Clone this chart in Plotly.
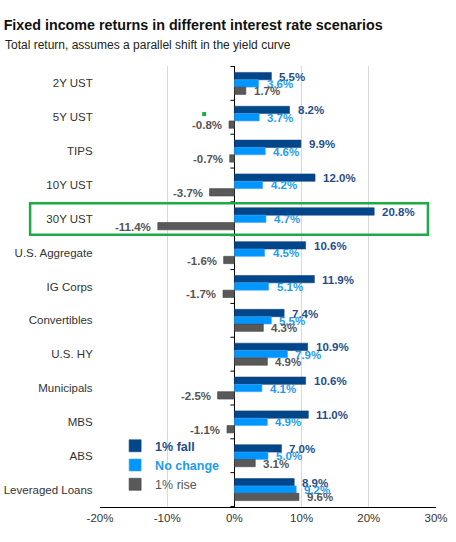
import plotly.graph_objects as go

categories = ["2Y UST", "5Y UST", "TIPS", "10Y UST", "30Y UST", "U.S. Aggregate",
              "IG Corps", "Convertibles", "U.S. HY", "Municipals", "MBS", "ABS",
              "Leveraged Loans"]
fall = [5.5, 8.2, 9.9, 12.0, 20.8, 10.6, 11.9, 7.4, 10.9, 10.6, 11.0, 7.0, 8.9]
no_change = [3.6, 3.7, 4.6, 4.2, 4.7, 4.5, 5.1, 5.5, 7.9, 4.1, 4.9, 5.0, 9.2]
rise = [1.7, -0.8, -0.7, -3.7, -11.4, -1.6, -1.7, 4.3, 4.9, -2.5, -1.1, 3.1, 9.6]
series_names = ["1% fall", "No change", "1% rise"]
x_ticks = [-20, -10, 0, 10, 20, 30]

bar_colors = ["#00468B", "#0096FF", "#595959"]
text_colors = ["#1F4E8C", "#1E9BF0", "#555555"]
line_colors = ["#1D3F73", "#3AA8F5", "#404040"]
legend_bold = [True, True, False]

W, H = 456, 542
M = dict(l=100, r=20, t=66, b=35)
BARGAP = 0.35
plot_h = H - M["t"] - M["b"]
row_px = plot_h / len(categories)
bar_px = row_px * (1 - BARGAP) / 3

fig = go.Figure()
annotations = []
for k, (name, vals, bc, tc, lc, b) in enumerate(zip(series_names, [fall, no_change, rise],
                                     bar_colors, text_colors, line_colors, legend_bold)):
    label = f"<span style='color:{tc}'>{name}</span>"
    if b:
        label = f"<b>{label}</b>"
    fig.add_trace(go.Bar(
        y=categories, x=vals, orientation="h", name=label,
        marker=dict(color=bc, line=dict(color=lc, width=0.6)),
    ))
    ysh = (1 - k) * bar_px - 0.5
    for cat, v in zip(categories, vals):
        annotations.append(dict(
            x=v, y=cat, xref="x", yref="y", showarrow=False,
            text=f"<b>{v:.1f}%</b>",
            xanchor="left" if v >= 0 else "right",
            xshift=6 if v >= 0 else -5, yshift=ysh,
            font=dict(color=tc, size=11.5, family="Liberation Sans"),
        ))

# category boundary tick marks on the zero axis
for i in range(len(categories) + 1):
    fig.add_shape(type="line", xref="x", yref="y", xsizemode="pixel", xanchor=0,
                  x0=-4, x1=0, y0=i - 0.5, y1=i - 0.5,
                  line=dict(color="black", width=1))

# highlight box around 30Y UST
idx = categories.index("30Y UST")
fig.add_shape(type="rect", xref="paper", yref="y", x0=-0.208, x1=0.976,
              y0=idx - 0.46, y1=idx + 0.47, line=dict(color="#1FAA48", width=2.5))
fig.add_shape(type="rect", xref="paper", yref="paper", xsizemode="pixel", ysizemode="pixel",
              xanchor=0.31, yanchor=0.891, x0=-2, x1=2, y0=-2, y1=2,
              fillcolor="#1FAA48", line=dict(width=0))

annotations.append(dict(text="Total return, assumes a parallel shift in the yield curve",
                        xref="paper", yref="paper", x=-0.29, y=1.048, xanchor="left",
                        yanchor="middle", showarrow=False,
                        font=dict(size=12, color="#222222")))

fig.update_layout(
    width=W, height=H,
    margin=M,
    paper_bgcolor="white", plot_bgcolor="white",
    barmode="group", bargap=BARGAP, bargroupgap=0,
    font=dict(family="Liberation Sans", color="#333333"),
    title=dict(text="<b>Fixed income returns in different interest rate scenarios</b>",
               x=0.008, xanchor="left", y=0.954, yanchor="middle",
               font=dict(size=14.3, color="#111111")),
    annotations=annotations,
    legend=dict(x=0.045, y=0.172, xanchor="left", yanchor="top",
                bgcolor="rgba(0,0,0,0)", font=dict(size=12.5),
                itemwidth=30, tracegroupgap=0, traceorder="normal"),
    xaxis=dict(range=[-20, 30], tickvals=x_ticks,
               ticktext=[f"{v}%" for v in x_ticks],
               showgrid=True, gridcolor="#D9D9D9", gridwidth=1,
               zeroline=True, zerolinecolor="black", zerolinewidth=1.2,
               showline=True, linecolor="black", linewidth=1.2,
               ticks="", automargin=False,
               tickfont=dict(size=11.5, color="#333333")),
    yaxis=dict(autorange="reversed", showgrid=False, zeroline=False,
               showline=False, ticks="", ticksuffix="  ", automargin=False,
               tickfont=dict(size=11.5, color="#333333")),
)

fig.write_html("out.html")
